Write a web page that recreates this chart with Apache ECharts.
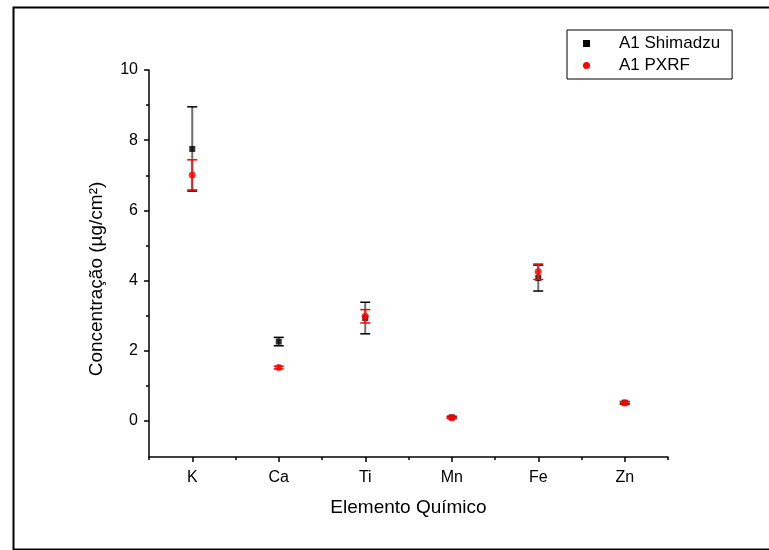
<!DOCTYPE html>
<html>
<head>
<meta charset="utf-8">
<script src="https://cdn.jsdelivr.net/npm/echarts@6/dist/echarts.min.js"></script>
<style>
  html, body { margin: 0; padding: 0; background: #fff; }
  #chart { width: 769px; height: 550px; }
</style>
</head>
<body>
<div id="chart"></div>
<script>
  'use strict'

  var elements = ['K', 'Ca', 'Ti', 'Mn', 'Fe', 'Zn'];
  var shimadzu = [7.75, 2.26, 2.93, 0.10, 4.07, 0.52];
  var shimadzuErr = [1.20, 0.12, 0.45, 0.03, 0.37, 0.03];
  var pxrf = [7.01, 1.52, 2.98, 0.09, 4.25, 0.51];
  var pxrfErr = [0.43, 0.04, 0.19, 0.02, 0.22, 0.04];
  var yTicks = [0, 2, 4, 6, 8, 10];
  var yMinorTicks = [1, 3, 5, 7, 9];

  var font = 'Arial, "Liberation Sans", sans-serif';

  function errData(vals, errs) {
    return vals.map(function (v, i) { return [i, v - errs[i], v + errs[i]]; });
  }

  // vertical error bar with caps, drawn through the axes
  function errSeries(name, data, lineColor, capColor) {
    return {
      name: name,
      type: 'custom',
      data: data,
      itemStyle: { color: capColor },
      renderItem: function (params, api) {
        var lo = api.coord([api.value(0), api.value(1)]);
        var hi = api.coord([api.value(0), api.value(2)]);
        var w = 5;
        return {
          type: 'group',
          children: [
            { type: 'line', shape: { x1: lo[0], y1: lo[1], x2: hi[0], y2: hi[1] },
              style: { stroke: lineColor, lineWidth: 2 } },
            { type: 'line', shape: { x1: lo[0] - w, y1: lo[1], x2: lo[0] + w, y2: lo[1] },
              style: { stroke: capColor, lineWidth: 1.5 } },
            { type: 'line', shape: { x1: hi[0] - w, y1: hi[1], x2: hi[0] + w, y2: hi[1] },
              style: { stroke: capColor, lineWidth: 1.5 } }
          ]
        };
      }
    };
  }

  var chart = echarts.init(document.getElementById('chart'));

  var option = {
    animation: false,
    backgroundColor: '#fff',
    textStyle: { fontFamily: font },
    grid: { left: 149, top: 70, right: 101, bottom: 93 },
    legend: {
      orient: 'vertical',
      left: 567,
      top: 30,
      padding: [5, 12, 5, 16],
      itemGap: 5,
      itemWidth: 7,
      itemHeight: 7,
      borderColor: '#000',
      borderWidth: 1,
      borderRadius: 0,
      textStyle: { fontFamily: font, fontSize: 17, color: '#000', padding: [0, 0, 0, 24] },
      data: [
        { name: 'A1 Shimadzu', icon: 'rect', itemStyle: { color: '#000' } },
        { name: 'A1 PXRF', icon: 'circle', itemStyle: { color: '#ff0000' } }
      ]
    },
    xAxis: [
      {
        type: 'category',
        data: elements,
        boundaryGap: true,
        name: 'Elemento Químico',
        nameLocation: 'middle',
        nameGap: 41,
        nameTextStyle: { fontFamily: font, fontSize: 19, color: '#000' },
        axisLine: { show: true, onZero: false, lineStyle: { color: '#000', width: 1.5 } },
        axisTick: { show: true, inside: false, interval: 0, alignWithLabel: true, length: 5,
                    lineStyle: { color: '#000', width: 1.5 } },
        axisLabel: { fontFamily: font, fontSize: 16, color: '#000', margin: 13 },
        splitLine: { show: false }
      },
      {
        type: 'category',
        data: elements,
        boundaryGap: true,
        position: 'bottom',
        axisLine: { show: false, onZero: false },
        axisTick: { show: true, inside: false, interval: 0, length: 3,
                    lineStyle: { color: '#000', width: 1.5 } },
        axisLabel: { show: false },
        splitLine: { show: false }
      }
    ],
    yAxis: [
      {
        type: 'value',
        min: -1.03,
        max: 10,
        axisLine: { show: true, lineStyle: { color: '#000', width: 1.5 } },
        axisTick: { show: true, length: 5, customValues: yTicks, lineStyle: { color: '#000', width: 1.5 } },
        axisLabel: { fontFamily: font, fontSize: 16, color: '#000', margin: 11, customValues: yTicks },
        splitLine: { show: false }
      },
      {
        type: 'value',
        min: -1.03,
        max: 10,
        position: 'left',
        axisLine: { show: false },
        axisTick: { show: true, length: 3, customValues: yMinorTicks, lineStyle: { color: '#000', width: 1.5 } },
        axisLabel: { show: false },
        splitLine: { show: false }
      }
    ],
    graphic: [
      {
        type: 'rect',
        left: 11, top: 5,
        shape: { width: 770, height: 542 },
        style: { fill: 'none', stroke: '#000', lineWidth: 2 },
        silent: true
      },
      {
        type: 'text',
        x: 97, y: 279,
        rotation: Math.PI / 2,
        style: {
          text: 'Concentração (µg/cm²)',
          font: '19px ' + font,
          fill: '#000',
          align: 'center',
          verticalAlign: 'middle'
        }
      }
    ],
    series: [
      errSeries('A1 Shimadzu', errData(shimadzu, shimadzuErr), '#6f6f6f', '#000'),
      {
        name: 'A1 Shimadzu',
        type: 'scatter',
        data: shimadzu,
        symbol: 'rect',
        symbolSize: 6,
        z: 3,
        itemStyle: { color: '#000' }
      },
      errSeries('A1 PXRF', errData(pxrf, pxrfErr), '#d42a2a', '#ff0000'),
      {
        name: 'A1 PXRF',
        type: 'scatter',
        data: pxrf,
        symbol: 'circle',
        symbolSize: 7,
        z: 5,
        itemStyle: { color: '#ff0000' }
      }
    ]
  };

  // draw order: shimadzu bars, shimadzu points, pxrf bars, pxrf points
  option.series[0].z = 2;
  option.series[2].z = 4;

  chart.setOption(option);
</script>
</body>
</html>
